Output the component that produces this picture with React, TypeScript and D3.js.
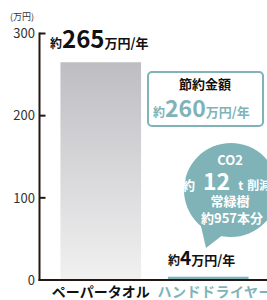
import React from "react";
import * as d3 from "d3";

const categories = ["ペーパータオル", "ハンドドライヤー"];
const costs = [265, 4];
const yTicks = [0, 100, 200, 300];
const unitLabel = "(万円)";
const savingTitle = "節約金額";
const savingValue = 260;
const co2Value = 12;
const treeCount = 957;

const W = 267;
const H = 300;
const TEAL = "#7fb3b8";
const DARK = "#231815";
const FONT = "'Noto Sans CJK JP', 'Noto Sans', sans-serif";

export default function App() {
  const y = d3.scaleLinear().domain([0, 300]).range([280, 33.5]);
  const x = d3
    .scaleBand<string>()
    .domain(categories)
    .range([47, 262])
    .paddingInner(0.25)
    .paddingOuter(0.125);

  const axisX = 39.5;

  return (
    <svg
      width={W}
      height={H}
      style={{ position: "absolute", left: 0, top: 0, fontFamily: FONT }}
    >
      <defs>
        <linearGradient id="paperGrad" x1="0" y1="0" x2="0" y2="1">
          <stop offset="0%" stopColor="#bebdc2" />
          <stop offset="100%" stopColor="#f1f1f1" />
        </linearGradient>
      </defs>

      {/* bars */}
      {categories.map((c, i) => (
        <rect
          key={c}
          x={x(c)}
          y={y(costs[i])}
          width={x.bandwidth()}
          height={y(0) - y(costs[i])}
          fill={i === 0 ? "url(#paperGrad)" : TEAL}
        />
      ))}

      {/* axis */}
      <text x={10} y={20} fontSize={9} fill="#333">
        {unitLabel}
      </text>
      <line x1={axisX} x2={axisX} y1={y(300) - 1} y2={y(0) + 1} stroke={DARK} strokeWidth={2} />
      <line x1={axisX - 1} x2={W} y1={y(0)} y2={y(0)} stroke={DARK} strokeWidth={2} />
      {yTicks.map((t) => (
        <g key={t}>
          {t > 0 && (
            <line x1={axisX} x2={axisX + 6} y1={y(t)} y2={y(t)} stroke={DARK} strokeWidth={2} />
          )}
          <text
            x={35}
            y={y(t)}
            dy="0.36em"
            textAnchor="end"
            fontSize={13}
            fill="#333"
          >
            {t}
          </text>
        </g>
      ))}

      {/* category labels */}
      {categories.map((c, i) => (
        <text
          key={c}
          x={(x(c) as number) + x.bandwidth() / 2 + (i === 1 ? 7 : 0)}
          y={297}
          textAnchor="middle"
          fontSize={14}
          fontWeight="bold"
          letterSpacing={i === 1 ? 0.5 : 0}
          fill={i === 0 ? "#111" : TEAL}
        >
          {c}
        </text>
      ))}

      {/* value labels */}
      <text x={50} y={y(costs[0]) - 14} fontWeight="bold" fill="#111">
        <tspan fontSize={12}>約</tspan>
        <tspan fontSize={24}>{costs[0]}</tspan>
        <tspan fontSize={13}>万円/年</tspan>
      </text>
      <text x={168} y={y(costs[1]) - 12} fontWeight="bold" fill="#111">
        <tspan fontSize={12}>約</tspan>
        <tspan fontSize={19}>{costs[1]}</tspan>
        <tspan fontSize={13}>万円/年</tspan>
      </text>

      {/* savings box */}
      <rect x={148} y={72} width={115} height={54} rx={4} fill="#fff" stroke={TEAL} strokeWidth={2} />
      <text x={205} y={89} textAnchor="middle" fontSize={13} fontWeight="bold" fill="#111">
        {savingTitle}
      </text>
      <text x={153} y={117} fontWeight="bold" fill={TEAL}>
        <tspan fontSize={12}>約</tspan>
        <tspan fontSize={23}>{savingValue}</tspan>
        <tspan fontSize={13}>万円/年</tspan>
      </text>

      {/* CO2 bubble */}
      <path d="M200,222 L224,234 L206,248 Z" fill={TEAL} />
      <circle cx={231} cy={190} r={47} fill={TEAL} />
      <g fill="#fff" fontWeight="bold">
        <text x={230} y={165} textAnchor="middle" fontSize={13}>
          CO2
        </text>
        <text x={182} y={190}>
          <tspan fontSize={13}>約</tspan>
          <tspan fontSize={23} dx={8}>{co2Value}</tspan>
          <tspan fontSize={12} dx={8}>t</tspan>
          <tspan fontSize={12} dx={4}>削減</tspan>
        </text>
        <text x={230} y={206} textAnchor="middle" fontSize={13}>
          常緑樹
        </text>
        <text x={232} y={223} textAnchor="middle" fontSize={13}>
          約{treeCount}本分
        </text>
      </g>
    </svg>
  );
}
